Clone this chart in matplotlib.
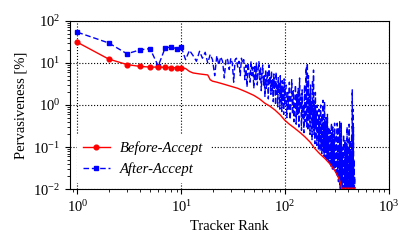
import matplotlib
matplotlib.use('Agg')
import matplotlib.pyplot as plt
from matplotlib.lines import Line2D

plt.rcParams['font.family'] = ['Liberation Serif', 'DejaVu Serif']
plt.rcParams['mathtext.fontset'] = 'stix'

# rank -> pervasiveness [%]
red_rank = [1, 2, 3, 4, 5, 6, 7, 8, 9, 10, 11, 12, 13, 15, 18, 19, 20, 22, 25,
            30, 35, 42, 50, 57, 64, 71, 80, 90, 99, 110, 124, 140, 155, 175,
            193, 215, 241, 270, 300, 320, 336, 345, 350, 400, 472]
red_val = [31, 12.4, 9.2, 8.3, 8.0, 8.0, 7.9, 7.8, 7.7, 7.6, 7.4, 6.3, 5.8,
           5.5, 5.2, 4.0, 3.7, 3.5, 3.2, 2.8, 2.5, 2.07, 1.7, 1.39, 1.1, 0.95,
           0.76, 0.58, 0.44, 0.35, 0.28, 0.22, 0.176, 0.13, 0.093, 0.07, 0.054,
           0.04, 0.028, 0.021, 0.016, 0.013, 0.0105, 0.0105, 0.0105]

# after-accept: every rank up to 100, then every 2nd, then every 3rd rank
blue_rank = list(range(1, 101)) + list(range(102, 301, 2)) + list(range(303, 472, 3))
blue_val_1_39 = [54, 30, 16.6, 20.5, 22, 8.5, 23, 24, 22, 24,
                 12, 20, 15, 11, 19, 13, 18, 10, 16, 12,
                 5, 15, 9, 14, 11, 4.4, 13, 12, 7, 13,
                 10, 3.5, 12, 13, 8, 11, 5, 13, 10]
blue_val_40_100 = [12, 4, 9, 2.7, 10, 6, 3.5, 11, 5, 8, 2.5, 9, 4, 10, 3, 7, 10.7, 4,
                   8, 2.2, 6, 9, 3, 5, 1.6, 7, 2.5, 4.5, 6, 1.4, 9, 3, 5, 1.8, 6.5,
                   2.2, 4, 1.2, 5.5, 2.5, 3.5, 1.0, 6, 1.8, 3, 0.9, 4.5, 2, 3.2, 0.8,
                   5, 1.5, 2.8, 0.7, 3.8, 1.2, 2.4, 0.6, 4.2, 1.0, 2.2]
blue_val_102_300 = [3.0, 0.5, 2.0, 0.8, 3.5, 0.45, 1.5, 4.0, 0.6, 2.2,
                    0.4, 1.2, 3.0, 0.35, 1.8, 0.6, 2.5, 0.3, 4.4, 0.8,
                    1.5, 0.25, 2.3, 0.5, 1.0, 0.22, 3.0, 0.4, 1.4, 8.0,
                    0.3, 10, 0.25, 5.0, 0.5, 1.8, 0.2, 3.0, 0.6, 1.2,
                    0.15, 4.0, 0.3, 6.8, 0.2, 1.0, 0.12, 2.0, 0.3, 0.7,
                    0.11, 1.0, 0.2, 0.5, 0.09, 0.8, 0.15, 0.4, 0.08, 1.0,
                    0.12, 0.3, 0.07, 0.6, 0.1, 1.3, 0.08, 0.4, 0.06, 1.2,
                    0.1, 0.3, 0.055, 0.5, 0.08, 0.2, 0.05, 0.6, 0.07, 0.15,
                    0.045, 0.3, 0.06, 0.12, 0.04, 0.25, 0.05, 0.1, 0.035, 0.37,
                    0.05, 0.15, 0.03, 0.3, 0.04, 0.1, 0.03, 0.2, 0.035, 0.37]
blue_val_303_471 = [0.03, 0.12, 0.025, 0.2, 0.02, 0.37, 0.02, 0.1, 0.015, 0.3,
                    0.015, 0.4, 0.0105, 0.15, 0.0105, 0.37, 0.0105, 0.06, 0.0105, 0.1,
                    0.0105, 0.2, 0.0105, 0.05, 0.0105, 0.15, 0.0105, 0.08, 0.0105, 0.12,
                    0.0105, 0.3, 0.0105, 0.05, 0.0105, 0.1, 0.0105, 0.35, 0.0105, 0.08,
                    0.0105, 0.15, 0.0105, 0.06, 0.0105, 0.2, 0.0105, 2.3, 0.0105, 0.8,
                    0.0105, 0.3, 0.0105, 0.05, 0.0105, 0.02, 0.0105]
blue_val = blue_val_1_39 + blue_val_40_100 + blue_val_102_300 + blue_val_303_471

fig = plt.figure(figsize=(4.15, 2.44), dpi=100)
ax = fig.add_axes([0.169, 0.225, 0.768, 0.689])

ax.plot(red_rank, red_val, color='red', lw=1.0, marker='o', ms=3.4,
        markevery=list(range(10)), zorder=3)
ax.plot(blue_rank, blue_val, color='blue', lw=1.0, ls='--', dashes=(4, 2),
        marker='s', ms=3.4, markevery=list(range(10)), zorder=2)

ax.set_xscale('log')
ax.set_yscale('log')
ax.set_xlim(0.85, 1000)
ax.set_ylim(0.01, 100)
ax.grid(True, which='major', color='black', ls=':', lw=0.8)

ax.set_xlabel('Tracker Rank', fontsize=10.5)
ax.set_ylabel('Pervasiveness [%]', fontsize=10.5)
ax.tick_params(labelsize=10.5, direction='out')

handles = [
    Line2D([], [], color='red', lw=1.0, marker='o', ms=3.4),
    Line2D([], [], color='blue', lw=1.0, ls='--', dashes=(4, 2), marker='s', ms=3.4),
]
leg = ax.legend(handles, ['Before-Accept', 'After-Accept'], loc='lower left',
                prop={'style': 'italic', 'size': 10.5}, frameon=True,
                fancybox=False, framealpha=1, edgecolor='white',
                handlelength=1.8, handletextpad=0.7, borderaxespad=0.5)

fig.savefig('out.png', dpi=100)
